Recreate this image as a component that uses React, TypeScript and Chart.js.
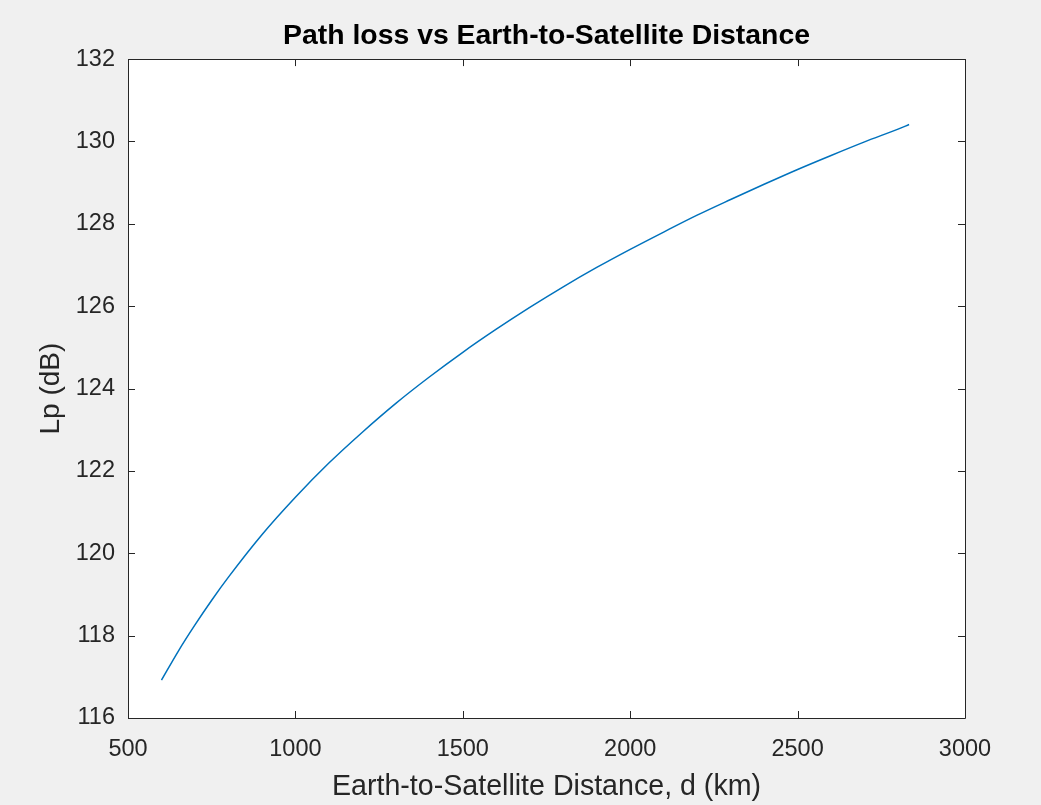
import React, { useEffect, useRef } from "react";
import { Chart, registerables } from "chart.js";

Chart.register(...registerables);

const distancesKm: number[] = [
  600, 650, 700, 750, 800, 900, 1000, 1100, 1200, 1300, 1400, 1500, 1600,
  1700, 1800, 1900, 2000, 2100, 2200, 2300, 2400, 2500, 2600, 2700, 2800,
  2833,
];
const pathLossDb: number[] = [
  116.92, 117.62, 118.26, 118.86, 119.42, 120.45, 121.36, 122.19, 122.94,
  123.64, 124.28, 124.88, 125.44, 125.97, 126.47, 126.94, 127.38, 127.8,
  128.21, 128.59, 128.96, 129.32, 129.66, 129.99, 130.3, 130.41,
];
const xTicks: number[] = [500, 1000, 1500, 2000, 2500, 3000];
const yTicks: number[] = [116, 118, 120, 122, 124, 126, 128, 130, 132];

const titleText = "Path loss vs Earth-to-Satellite Distance";
const xLabel = "Earth-to-Satellite Distance, d (km)";
const yLabel = "Lp (dB)";

const FONT = 'Arial, "Liberation Sans", Helvetica, sans-serif';
const AXIS_COLOR = "#262626";

const boxPlugin = {
  id: "matlabBox",
  beforeDraw(chart: any) {
    const { ctx, width, height, chartArea } = chart;
    ctx.save();
    ctx.fillStyle = "#f0f0f0";
    ctx.fillRect(0, 0, width, height);
    ctx.fillStyle = "#ffffff";
    ctx.fillRect(
      chartArea.left,
      chartArea.top,
      chartArea.right - chartArea.left,
      chartArea.bottom - chartArea.top
    );
    ctx.restore();
  },
  afterDatasetsDraw(chart: any) {
    const { ctx, chartArea, scales } = chart;
    const { left, right, top, bottom } = chartArea;
    const tl = 7;
    ctx.save();
    ctx.strokeStyle = AXIS_COLOR;
    ctx.lineWidth = 1;
    ctx.beginPath();
    ctx.rect(
      Math.round(left) + 0.5,
      Math.round(top) + 0.5,
      Math.round(right - left),
      Math.round(bottom - top)
    );
    ctx.stroke();
    ctx.beginPath();
    xTicks.forEach((v) => {
      const px = Math.round(scales.x.getPixelForValue(v)) + 0.5;
      ctx.moveTo(px, bottom);
      ctx.lineTo(px, bottom - tl);
      ctx.moveTo(px, top);
      ctx.lineTo(px, top + tl);
    });
    yTicks.forEach((v) => {
      const py = Math.round(scales.y.getPixelForValue(v)) + 0.5;
      ctx.moveTo(left, py);
      ctx.lineTo(left + tl, py);
      ctx.moveTo(right, py);
      ctx.lineTo(right - tl, py);
    });
    ctx.stroke();
    ctx.restore();
  },
};

export default function App() {
  const canvasRef = useRef<HTMLCanvasElement | null>(null);

  useEffect(() => {
    if (!canvasRef.current) return;
    const chart = new Chart(canvasRef.current, {
      type: "line",
      data: {
        datasets: [
          {
            data: distancesKm.map((d, i) => ({ x: d, y: pathLossDb[i] })),
            borderColor: "#0072BD",
            borderWidth: 1.5,
            pointRadius: 0,
            cubicInterpolationMode: "monotone",
            fill: false,
          },
        ],
      },
      options: {
        responsive: false,
        animation: false,
        devicePixelRatio: 1,
        layout: { padding: { top: 0, right: 76, bottom: 0, left: 0 } },
        plugins: {
          legend: { display: false },
          tooltip: { enabled: false },
          title: {
            display: true,
            fullSize: false,
            text: titleText,
            color: "#000000",
            font: { family: FONT, size: 28.4, weight: "bold" },
            padding: { top: 19, bottom: 6 },
          },
        },
        scales: {
          x: {
            type: "linear",
            min: 500,
            max: 3000,
            afterBuildTicks: (scale: any) => {
              scale.ticks = xTicks.map((v) => ({ value: v }));
            },
            afterFit: (scale: any) => {
              scale.height = 87;
            },
            grid: { display: false, drawTicks: false },
            border: { display: false },
            ticks: {
              color: AXIS_COLOR,
              font: { family: FONT, size: 23.5 },
              padding: 17,
              maxRotation: 0,
              autoSkip: false,
              callback: (v: any) => String(v),
            },
            title: {
              display: true,
              text: xLabel,
              color: AXIS_COLOR,
              font: { family: FONT, size: 28.6 },
              padding: { top: 0, bottom: 1 },
            },
          },
          y: {
            type: "linear",
            min: 116,
            max: 132,
            afterBuildTicks: (scale: any) => {
              scale.ticks = yTicks.map((v) => ({ value: v }));
            },
            afterFit: (scale: any) => {
              scale.width = 128;
            },
            grid: { display: false, drawTicks: false },
            border: { display: false },
            ticks: {
              color: AXIS_COLOR,
              font: { family: FONT, size: 23.5 },
              padding: 13,
              autoSkip: false,
              callback: (v: any) => String(v),
            },
            title: {
              display: true,
              text: yLabel,
              color: AXIS_COLOR,
              font: { family: FONT, size: 28 },
              padding: { top: 34, bottom: 0 },
            },
          },
        },
      },
      plugins: [boxPlugin],
    } as any);
    return () => chart.destroy();
  }, []);

  return (
    <div
      style={{
        position: "fixed",
        left: 0,
        top: 0,
        width: 1041,
        height: 805,
        background: "#f0f0f0",
      }}
    >
      <canvas
        ref={canvasRef}
        width={1041}
        height={805}
        style={{ display: "block", width: 1041, height: 805 }}
      />
    </div>
  );
}
